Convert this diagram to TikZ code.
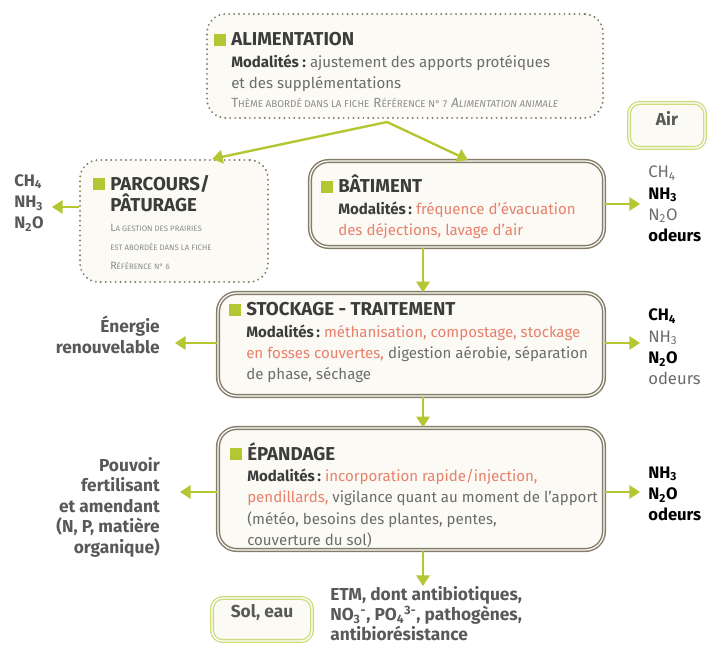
\documentclass[tikz,border=0pt]{standalone}
\usepackage{fontspec}
\setmainfont{Fira Sans}
\usetikzlibrary{arrows.meta,fit}
\definecolor{leaf}{HTML}{B4C632}
\definecolor{mint}{HTML}{CFDC7E}
\definecolor{bark}{HTML}{857C68}
\definecolor{cream}{HTML}{FBFAF5}
\definecolor{ink}{HTML}{3C3C3C}
\definecolor{soft}{HTML}{6C6C6C}
\definecolor{mute}{HTML}{8C8C8C}
\definecolor{salmon}{HTML}{E8806B}
\newcommand{\puce}{\llap{\textcolor{leaf}{\rule{9pt}{9pt}}\hspace{4pt}}}
\newcommand{\titre}{\fontsize{14}{16}\selectfont\bfseries\color{ink}}
\newcommand{\smc}[2]{{\fontsize{10}{14}\selectfont #1}{\fontsize{7.4}{14}\selectfont #2}}
\newcommand{\smcp}[2]{{\fontsize{8}{14}\selectfont #1}{\fontsize{5.9}{14}\selectfont #2}}
\newcommand{\modal}[1]{\textbf{\textcolor{ink}{Modalités#1}}\ }
\newcommand{\rose}[1]{\textcolor{salmon}{#1}}
\newcommand{\fort}[1]{\textbf{\textcolor{black}{#1}}}

\begin{document}
\begin{tikzpicture}[x=0.75pt,y=-0.75pt,
  dotbox/.style={draw=bark, line width=1.6pt, dash pattern=on 0pt off 3.7pt,
    line cap=round, fill=cream, rounded corners=14pt, inner sep=0pt},
  framebox/.style={draw=bark, line width=1.1pt, double=white, double distance=0.9pt,
    fill=cream, rounded corners=14pt, inner sep=0pt},
  milieu/.style={draw=mint, line width=1pt, double=white, double distance=1pt,
    fill=cream, rounded corners=8pt, inner sep=0pt,
    font=\fontsize{13}{15}\selectfont\bfseries, text=ink!85},
  body/.style={anchor=north west, inner sep=0pt, align=left,
    font=\fontsize{11.3}{16}\selectfont, text=soft},
  gaz/.style={inner sep=0pt, align=left, font=\fontsize{12.5}{16}\selectfont, text=soft},
  bilan/.style={inner sep=0pt, align=right, anchor=east,
    font=\fontsize{13}{15.4}\selectfont\bfseries, text=ink!85},
  flow/.style={draw=leaf, line width=1.8pt, -{Triangle[length=8pt,width=10pt]}}]
\useasboundingbox (0,0) rectangle (708,645);

% boxes
\node[dotbox, fit={(207,14) (603,118)}] (alim) {};
\node[dotbox, fit={(80,160) (268,282)}] (parc) {};
\node[framebox, fit={(310,161) (604,247)}] (bat) {};
\node[framebox, fit={(218,293) (604,396)}] (stock) {};
\node[framebox, fit={(218,428) (604,550)}] (epand) {};
\node[milieu, fit={(629,103) (705,148)}] (air) {Air};
\node[milieu, fit={(212,598) (312,641)}] (sol) {Sol, eau};

% texts in the boxes
\node[body] (alimtxt) at (231,31) {\rule{0pt}{11pt}{\titre\puce ALIMENTATION}\\
  \modal{ :}ajustement des apports protéiques\\
  et des supplémentations\\[-2pt]
  \textcolor{mute}{\smc{T}{HÈME ABORDÉ DANS LA FICHE} \smc{R}{ÉFÉRENCE N° 7}
  \itshape\smc{A}{LIMENTATION ANIMALE}}};
\node[body] (parctxt) at (110,175) {\rule{0pt}{11pt}{\titre\puce PARCOURS/}\\
  {\titre PÂTURAGE}\\[-1pt]
  \textcolor{mute}{\smcp{L}{A GESTION DES PRAIRIES}}\\[-2pt]
  \textcolor{mute}{\smcp{}{EST ABORDÉE DANS LA FICHE}}\\[-2pt]
  \textcolor{mute}{\smcp{R}{ÉFÉRENCE N° 6}}};
\node[body] (battxt) at (338,175) {\rule{0pt}{11pt}{\titre\puce BÂTIMENT}\\
  \modal{\,:}\rose{fréquence d’évacuation}\\
  \rose{des déjections, lavage d’air}};
\node[body] (stocktxt) at (246,301) {\rule{0pt}{11pt}{\titre\puce STOCKAGE - TRAITEMENT}\\
  \modal{\,:}\rose{méthanisation, compostage, stockage}\\
  \rose{en fosses couvertes,} digestion aérobie, séparation\\
  de phase, séchage};
\node[body] (epandtxt) at (247,442) {\rule{0pt}{11pt}{\titre\puce ÉPANDAGE}\\
  \modal{\,:}\rose{incorporation rapide/injection,}\\
  \rose{pendillards,} vigilance quant au moment de l’apport\\
  (météo, besoins des plantes, pentes,\\
  couverture du sol)};

% emissions
\node[gaz, anchor=west, font=\fontsize{12.5}{16}\selectfont\bfseries, text=ink!85] (gasP) at (14,203)
  {CH\textsubscript{4}\\NH\textsubscript{3}\\N\textsubscript{2}O};
\node[gaz, anchor=west] (gasB) at (648,204)
  {CH\textsubscript{4}\\\fort{NH\textsubscript{3}}\\N\textsubscript{2}O\\\fort{odeurs}};
\node[gaz, anchor=west] (gasS) at (648,347)
  {\fort{CH\textsubscript{4}}\\NH\textsubscript{3}\\\fort{N\textsubscript{2}O}\\odeurs};
\node[gaz, anchor=west] (gasE) at (648,494)
  {\fort{NH\textsubscript{3}}\\\fort{N\textsubscript{2}O}\\\fort{odeurs}};
\node[bilan] (energie) at (160,335) {Énergie\\renouvelable};
\node[bilan] (fert) at (160,507) {Pouvoir\\fertilisant\\et amendant\\(N, P, matière\\organique)};
\node[bilan, anchor=north west, align=left, font=\fontsize{13}{15}\selectfont\bfseries] (etm) at (330,586)
  {ETM, dont antibiotiques,\\
   NO\textsubscript{3}\textsuperscript{-}, PO\textsubscript{4}\textsuperscript{3-}, pathogènes,\\
   antibiorésistance};

% arrows
\coordinate (split) at (387,122);
\coordinate (axe) at (423,0);
\draw[flow] (split) -- (212,159);
\draw[flow] (split) -- (468,160);
\draw[flow] (parc.west |- 0,207) -- (52,207);
\draw[flow] (bat.east) -- ([xshift=-6pt]gasB.west |- bat.east);
\draw[flow] (bat.south -| axe) -- (stock.north -| axe);
\draw[flow] (stock.west |- 0,343) -- (175,343);
\draw[flow] (stock.east |- 0,343) -- ([xshift=-6pt]gasS.west |- 0,343);
\draw[flow] (stock.south -| axe) -- (epand.north -| axe);
\draw[flow] (epand.west |- 0,492) -- (180,492);
\draw[flow] (epand.east |- 0,492) -- ([xshift=-6pt]gasE.west |- 0,492);
\draw[flow] (epand.south -| axe) -- (etm.north -| axe);
\end{tikzpicture}
\end{document}
